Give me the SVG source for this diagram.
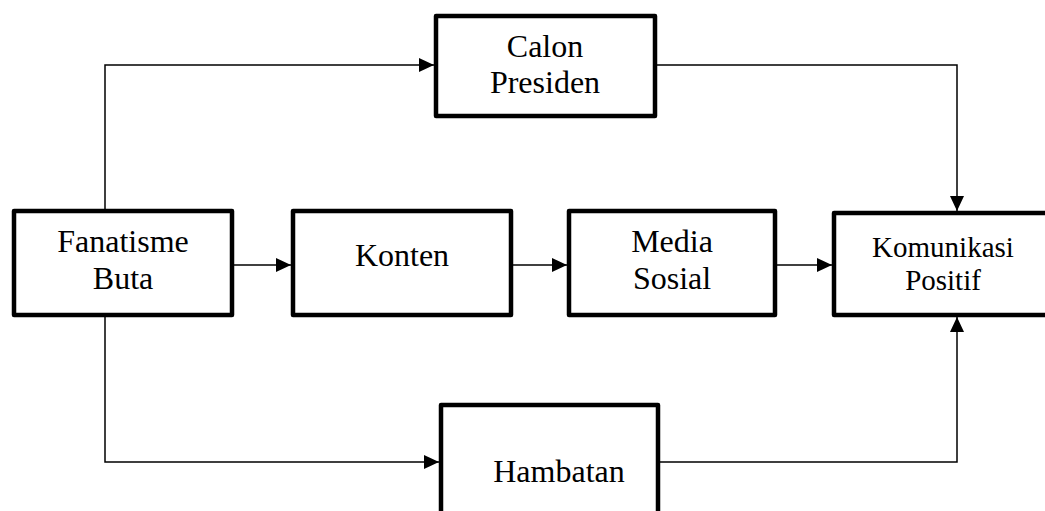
<svg xmlns="http://www.w3.org/2000/svg" width="1045" height="511" viewBox="0 0 1045 511">
<style>
.box{fill:#fff;stroke:#000;stroke-width:4.5;stroke-linejoin:round}
.t{font-family:'Liberation Serif','Times New Roman',serif;font-size:32px;fill:#000;text-anchor:middle}
.ts{font-family:'Liberation Serif','Times New Roman',serif;font-size:29px;fill:#000;text-anchor:middle}
.c{fill:none;stroke:#000;stroke-width:1.5}
</style>
<defs>
<marker id="ah" markerUnits="userSpaceOnUse" markerWidth="16" markerHeight="14" refX="15" refY="7" orient="auto">
<path d="M0,0 L15,7 L0,14 Z" fill="#000"/>
</marker>
</defs>
<g id="connectors">
<path class="c" d="M105,209 V65 H434" marker-end="url(#ah)"/>
<path class="c" d="M657,65 H957 V211" marker-end="url(#ah)"/>
<path class="c" d="M105,317 V462 H439" marker-end="url(#ah)"/>
<path class="c" d="M660,462 H957 V317" marker-end="url(#ah)"/>
<path class="c" d="M234,265 H291" marker-end="url(#ah)"/>
<path class="c" d="M513,265 H567" marker-end="url(#ah)"/>
<path class="c" d="M777,265 H832" marker-end="url(#ah)"/>
</g>
<g id="fanatisme">
<rect class="box" x="14" y="211" width="218" height="104"/>
<text class="t" x="123" y="252">Fanatisme</text>
<text class="t" x="123" y="289">Buta</text>
</g>
<g id="konten">
<rect class="box" x="293" y="211" width="218" height="104"/>
<text class="t" x="402" y="266">Konten</text>
</g>
<g id="media">
<rect class="box" x="569" y="211" width="206" height="104"/>
<text class="t" x="672" y="252">Media</text>
<text class="t" x="672" y="289">Sosial</text>
</g>
<g id="komunikasi">
<rect class="box" x="834" y="213" width="230" height="102"/>
<text class="ts" x="943" y="257">Komunikasi</text>
<text class="ts" x="943" y="290">Positif</text>
</g>
<g id="calon">
<rect class="box" x="436" y="16" width="219" height="100"/>
<text class="t" x="545" y="57">Calon</text>
<text class="t" x="545" y="93">Presiden</text>
</g>
<g id="hambatan">
<rect class="box" x="441" y="405" width="217" height="130"/>
<text class="t" x="559" y="482">Hambatan</text>
</g>
</svg>
